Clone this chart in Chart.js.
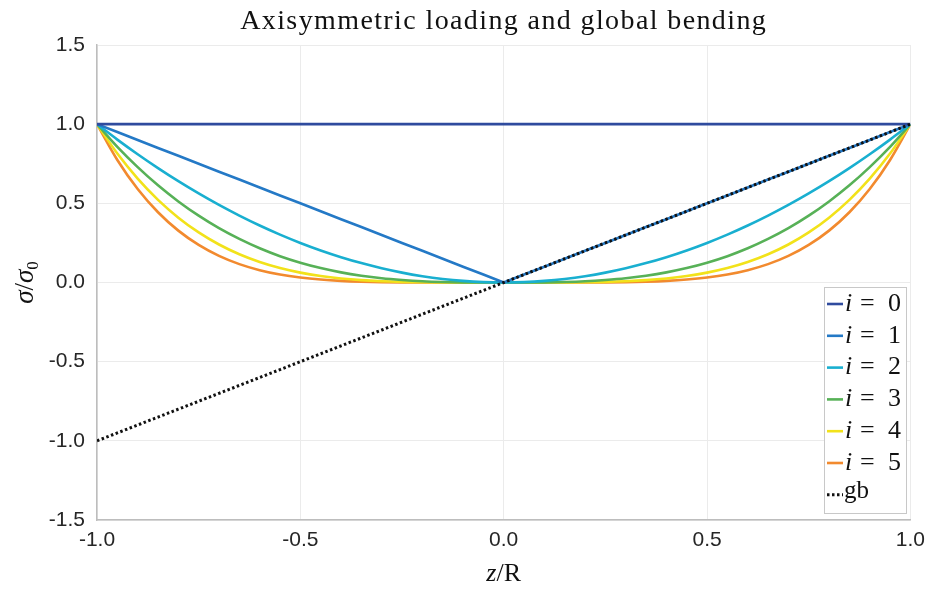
<!DOCTYPE html>
<html>
<head>
<meta charset="utf-8">
<script src="https://cdn.jsdelivr.net/npm/chart.js@4/dist/chart.umd.min.js"></script>
<style>
  html, body { margin: 0; padding: 0; background: #fff; }
  #wrap { position: relative; width: 933px; height: 592px; }
</style>
</head>
<body>
<div id="wrap"><canvas id="chart" width="933" height="592"></canvas></div>
<script>
// z/R sample positions
const zValues = [-1.0, -0.95, -0.9, -0.85, -0.8, -0.75, -0.7, -0.65, -0.6, -0.55, -0.5,
                 -0.45, -0.4, -0.35, -0.3, -0.25, -0.2, -0.15, -0.1, -0.05, 0.0,
                 0.05, 0.1, 0.15, 0.2, 0.25, 0.3, 0.35, 0.4, 0.45, 0.5,
                 0.55, 0.6, 0.65, 0.7, 0.75, 0.8, 0.85, 0.9, 0.95, 1.0];

// sigma / sigma0
const seriesI0 = [1, 1, 1, 1, 1, 1, 1, 1, 1, 1, 1, 1, 1, 1, 1, 1, 1, 1, 1, 1, 1,
                  1, 1, 1, 1, 1, 1, 1, 1, 1, 1, 1, 1, 1, 1, 1, 1, 1, 1, 1, 1];
const seriesI1 = [1.0, 0.95, 0.9, 0.85, 0.8, 0.75, 0.7, 0.65, 0.6, 0.55, 0.5,
                  0.45, 0.4, 0.35, 0.3, 0.25, 0.2, 0.15, 0.1, 0.05, 0.0,
                  0.05, 0.1, 0.15, 0.2, 0.25, 0.3, 0.35, 0.4, 0.45, 0.5,
                  0.55, 0.6, 0.65, 0.7, 0.75, 0.8, 0.85, 0.9, 0.95, 1.0];
const seriesI2 = [1.0, 0.9025, 0.81, 0.7225, 0.64, 0.5625, 0.49, 0.4225, 0.36, 0.3025, 0.25,
                  0.2025, 0.16, 0.1225, 0.09, 0.0625, 0.04, 0.0225, 0.01, 0.0025, 0.0,
                  0.0025, 0.01, 0.0225, 0.04, 0.0625, 0.09, 0.1225, 0.16, 0.2025, 0.25,
                  0.3025, 0.36, 0.4225, 0.49, 0.5625, 0.64, 0.7225, 0.81, 0.9025, 1.0];
const seriesI3 = [1.0, 0.857, 0.729, 0.614, 0.512, 0.422, 0.343, 0.275, 0.216, 0.166, 0.125,
                  0.091, 0.064, 0.043, 0.027, 0.016, 0.008, 0.0034, 0.001, 0.0001, 0.0,
                  0.0001, 0.001, 0.0034, 0.008, 0.016, 0.027, 0.043, 0.064, 0.091, 0.125,
                  0.166, 0.216, 0.275, 0.343, 0.422, 0.512, 0.614, 0.729, 0.857, 1.0];
const seriesI4 = [1.0, 0.8145, 0.6561, 0.522, 0.4096, 0.3164, 0.2401, 0.1785, 0.1296, 0.0915, 0.0625,
                  0.041, 0.0256, 0.015, 0.0081, 0.0039, 0.0016, 0.0005, 0.0001, 0.0, 0.0,
                  0.0, 0.0001, 0.0005, 0.0016, 0.0039, 0.0081, 0.015, 0.0256, 0.041, 0.0625,
                  0.0915, 0.1296, 0.1785, 0.2401, 0.3164, 0.4096, 0.522, 0.6561, 0.8145, 1.0];
const seriesI5 = [1.0, 0.7738, 0.5905, 0.4437, 0.3277, 0.2373, 0.1681, 0.116, 0.0778, 0.0503, 0.0313,
                  0.0185, 0.0102, 0.0053, 0.0024, 0.001, 0.0003, 0.0001, 0.0, 0.0, 0.0,
                  0.0, 0.0, 0.0001, 0.0003, 0.001, 0.0024, 0.0053, 0.0102, 0.0185, 0.0313,
                  0.0503, 0.0778, 0.116, 0.1681, 0.2373, 0.3277, 0.4437, 0.5905, 0.7738, 1.0];
const seriesGb = [-1.0, -0.95, -0.9, -0.85, -0.8, -0.75, -0.7, -0.65, -0.6, -0.55, -0.5,
                  -0.45, -0.4, -0.35, -0.3, -0.25, -0.2, -0.15, -0.1, -0.05, 0.0,
                  0.05, 0.1, 0.15, 0.2, 0.25, 0.3, 0.35, 0.4, 0.45, 0.5,
                  0.55, 0.6, 0.65, 0.7, 0.75, 0.8, 0.85, 0.9, 0.95, 1.0];

const seriesNames = ['0', '1', '2', '3', '4', '5', 'gb'];
const seriesData = [seriesI0, seriesI1, seriesI2, seriesI3, seriesI4, seriesI5, seriesGb];
const seriesColors = ['#2f4b9e', '#2479c6', '#19afd0', '#57b157', '#f2e21a', '#f28a2e', '#111111'];

const yTicks = [-1.5, -1.0, -0.5, 0.0, 0.5, 1.0, 1.5];
const xTicks = [-1.0, -0.5, 0.0, 0.5, 1.0];

const tickFont = { family: 'Liberation Sans', size: 21 };
const serif = '"Liberation Serif", "DejaVu Serif", serif';

const datasets = seriesData.map((vals, k) => {
    const isGb = seriesNames[k] === 'gb';
    const straight = k <= 1 || isGb;
    return {
        label: isGb ? 'gb' : 'i = ' + seriesNames[k],
        data: vals.map((v, j) => ({ x: zValues[j], y: v })),
        borderColor: seriesColors[k],
        borderWidth: isGb ? 3 : 2.6,
        borderDash: isGb ? [2.5, 2.5] : [],
        pointRadius: 0,
        tension: 0,
        cubicInterpolationMode: straight ? 'default' : 'monotone',
        fill: false
    };
});
// draw dotted line on top of the others
datasets[6].order = -1;

// titles, axis labels and legend inside the plot box
const textPlugin = {
    id: 'textPlugin',
    afterDraw(chart) {
        const ctx = chart.ctx;
        const area = chart.chartArea;
        const cx = (area.left + area.right) / 2;
        ctx.save();
        ctx.fillStyle = '#111';
        ctx.textBaseline = 'alphabetic';

        // title, stretched to the width it has in the figure
        const title = 'Axisymmetric loading and global bending';
        ctx.font = '28px ' + serif;
        const tw = ctx.measureText(title).width;
        ctx.letterSpacing = ((527 - tw) / title.length).toFixed(2) + 'px';
        ctx.textAlign = 'left';
        ctx.fillText(title, cx - 527 / 2, 29);
        ctx.letterSpacing = '0px';

        // x axis label: z/R
        ctx.font = 'italic 26px ' + serif;
        const wz = ctx.measureText('z').width;
        ctx.font = '26px ' + serif;
        const wr = ctx.measureText('/R').width;
        const x0 = cx - (wz + wr) / 2;
        ctx.font = 'italic 26px ' + serif;
        ctx.fillText('z', x0, 581);
        ctx.font = '26px ' + serif;
        ctx.fillText('/R', x0 + wz, 581);

        // y axis label: sigma/sigma_0
        ctx.save();
        ctx.translate(33, (area.top + area.bottom) / 2);
        ctx.rotate(-Math.PI / 2);
        ctx.font = 'italic 27px ' + serif;
        const ws = ctx.measureText('σ').width;
        ctx.font = '27px ' + serif;
        const wsl = ctx.measureText('/').width;
        ctx.font = '17px ' + serif;
        const w0 = ctx.measureText('0').width;
        let p = -(ws * 2 + wsl + w0) / 2;
        ctx.font = 'italic 27px ' + serif;
        ctx.fillText('σ', p, 0); p += ws;
        ctx.font = '27px ' + serif;
        ctx.fillText('/', p, 0); p += wsl;
        ctx.font = 'italic 27px ' + serif;
        ctx.fillText('σ', p, 0); p += ws;
        ctx.font = '17px ' + serif;
        ctx.fillText('0', p, 5);
        ctx.restore();

        // legend box
        const lx = 824, ly = 287, lw = 82, lh = 226;
        ctx.fillStyle = '#fff';
        ctx.fillRect(lx, ly, lw, lh);
        ctx.strokeStyle = '#c8c8c8';
        ctx.lineWidth = 1;
        ctx.strokeRect(lx + 0.5, ly + 0.5, lw, lh);
        const rowH = 31.8;
        chart.data.datasets.forEach((ds, k) => {
            const yy = ly + 17 + k * rowH;
            ctx.strokeStyle = ds.borderColor;
            ctx.lineWidth = ds.borderWidth;
            ctx.setLineDash(ds.borderDash || []);
            ctx.beginPath();
            ctx.moveTo(lx + 3, yy);
            ctx.lineTo(lx + 19, yy);
            ctx.stroke();
            ctx.setLineDash([]);
            ctx.fillStyle = '#111';
            ctx.textBaseline = 'middle';
            ctx.textAlign = 'left';
            if (seriesNames[k] === 'gb') {
                ctx.font = '25px ' + serif;
                ctx.fillText('gb', lx + 20, yy - 3);
            } else {
                ctx.font = 'italic 26px ' + serif;
                ctx.fillText('i', lx + 21, yy);
                ctx.font = '26px ' + serif;
                ctx.fillText('=', lx + 36, yy);
                ctx.fillText(seriesNames[k], lx + 64, yy);
            }
        });
        ctx.restore();
    }
};

new Chart(document.getElementById('chart').getContext('2d'), {
    type: 'line',
    data: { datasets: datasets },
    options: {
        responsive: false,
        animation: false,
        layout: { padding: { top: 45, right: 22, left: 0, bottom: 0 } },
        plugins: {
            legend: { display: false },
            tooltip: { enabled: false },
            title: { display: false }
        },
        scales: {
            x: {
                type: 'linear',
                min: -1, max: 1,
                afterBuildTicks(scale) { scale.ticks = xTicks.map(v => ({ value: v })); },
                afterFit(scale) { scale.height = 72; },
                ticks: {
                    font: tickFont, color: '#262626', padding: 8,
                    maxRotation: 0,
                    callback: v => v.toFixed(1)
                },
                grid: { color: '#ebebeb', lineWidth: 1, drawTicks: false },
                border: { color: '#bdbdbd', width: 1.5 }
            },
            y: {
                type: 'linear',
                min: -1.5, max: 1.5,
                afterBuildTicks(scale) { scale.ticks = yTicks.map(v => ({ value: v })); },
                afterFit(scale) { scale.width = 97; },
                ticks: {
                    font: tickFont, color: '#262626', padding: 12,
                    callback: v => v.toFixed(1)
                },
                grid: { color: '#ebebeb', lineWidth: 1, drawTicks: false },
                border: { color: '#bdbdbd', width: 1.5 }
            }
        }
    },
    plugins: [textPlugin]
});
</script>
</body>
</html>
